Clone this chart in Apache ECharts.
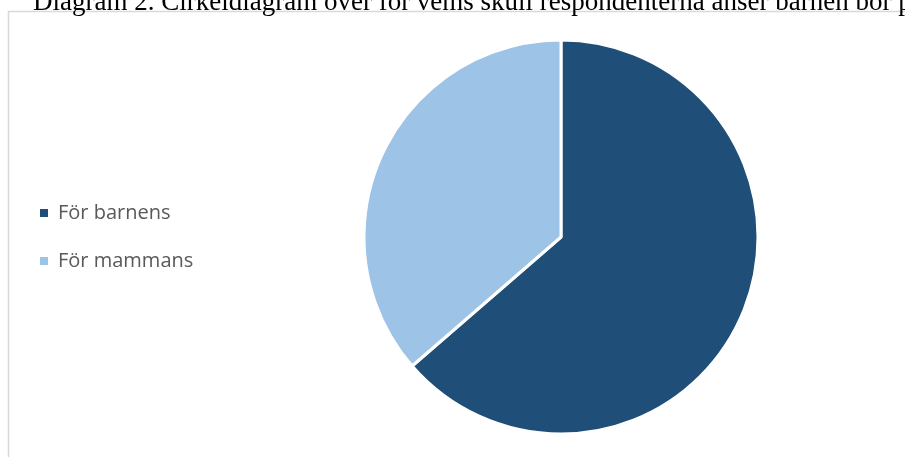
<!DOCTYPE html>
<html><head><meta charset="utf-8">
<script src="https://cdn.jsdelivr.net/npm/echarts@6/dist/echarts.min.js"></script>
<style>html,body{margin:0;padding:0;background:#fff}#c{width:905px;height:457px}</style>
</head><body><div id="c"></div>
<script>
const categories = ["För barnens", "För mammans"];
const values = [14, 8];
const colors = ["#1f4e79", "#9dc3e6"];
const titleText = "Diagram 2. Cirkeldiagram över för vems skull respondenterna anser barnen bor på";

const chart = echarts.init(document.getElementById('c'), null, {renderer: 'canvas'});
chart.setOption({
  animation: false,
  graphic: [
    {type: 'rect', shape: {x: 8.5, y: 11.5, width: 1000, height: 500}, style: {fill: 'none', stroke: '#d9d9d9', lineWidth: 1.5}, z: 0},
    {type: 'text', left: 33, top: -11, style: {text: titleText, font: '27px "Liberation Serif", "Times New Roman", serif', fill: '#000'}, z: 10}
  ],
  legend: {
    orient: 'vertical', left: 38, top: 203, padding: 0,
    itemWidth: 10, itemHeight: 10, itemGap: 28,
    icon: 'rect',
    textStyle: {color: '#595959', fontSize: 20, fontFamily: '"Open Sans", "Noto Sans", sans-serif', padding: [0, 0, 0, 4]},
    data: categories
  },
  series: [{
    type: 'pie',
    center: [561, 237], radius: 197,
    startAngle: 90, clockwise: true,
    label: {show: false}, labelLine: {show: false},
    itemStyle: {borderColor: '#fff', borderWidth: 3},
    emphasis: {disabled: true},
    data: categories.map((n, i) => ({name: n, value: values[i], itemStyle: {color: colors[i]}}))
  }]
});
</script></body></html>
